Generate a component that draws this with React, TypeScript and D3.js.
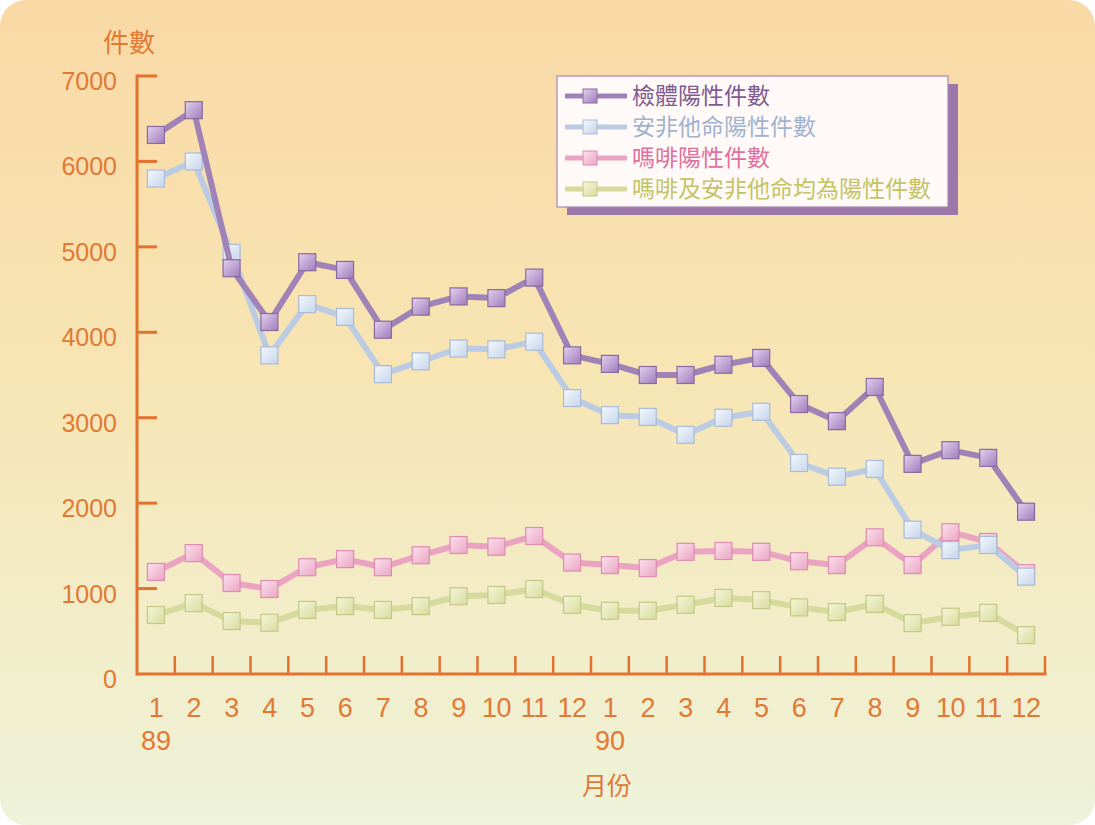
import React, { useEffect, useRef } from "react";
import * as d3 from "d3";

const width = 1095;
const height = 825;

const months = ["1", "2", "3", "4", "5", "6", "7", "8", "9", "10", "11", "12",
    "1", "2", "3", "4", "5", "6", "7", "8", "9", "10", "11", "12"];
const years = [{ idx: 0, label: "89" }, { idx: 12, label: "90" }];
const yTicks = [0, 1000, 2000, 3000, 4000, 5000, 6000, 7000];

const specimen = [6310, 6600, 4750, 4120, 4820, 4730, 4030, 4300, 4420, 4400, 4640, 3730,
    3630, 3500, 3500, 3620, 3700, 3160, 2960, 3360, 2460, 2620, 2530, 1900];
const amphetamine = [5800, 6000, 4930, 3730, 4330, 4180, 3510, 3660, 3810, 3800, 3890, 3230,
    3030, 3010, 2800, 3000, 3070, 2470, 2310, 2400, 1690, 1450, 1510, 1140];
const morphine = [1195, 1415, 1065, 995, 1250, 1345, 1250, 1390, 1510, 1490, 1615, 1305,
    1275, 1240, 1430, 1440, 1430, 1320, 1275, 1600, 1275, 1660, 1545, 1180];
const both = [690, 830, 620, 600, 750, 795, 750, 795, 910, 925, 995, 810,
    740, 740, 810, 890, 865, 780, 725, 820, 595, 670, 715, 455];

type Series = {
    name: string,
    values: number[],
    line: string,
    light: string,
    dark: string,
    stroke: string,
    text: string
}

const series: Series[] = [
    { name: "檢體陽性件數", values: specimen, line: "#9f82b6", light: "#e2d0ee", dark: "#a07cbc", stroke: "#8a6a9e", text: "#7e5a92" },
    { name: "安非他命陽性件數", values: amphetamine, line: "#bccbe4", light: "#f4f8fd", dark: "#c6d5ea", stroke: "#a9bbd6", text: "#9fb3d0" },
    { name: "嗎啡陽性件數", values: morphine, line: "#eba3c2", light: "#fbe0ec", dark: "#eba6c4", stroke: "#dc8cb0", text: "#e0709e" },
    { name: "嗎啡及安非他命均為陽性件數", values: both, line: "#d6da9c", light: "#f4f6d8", dark: "#d8dc9e", stroke: "#c4c886", text: "#c2c466" },
];

const axisColor = "#e2722e";
const textColor = "#e07a34";
const numFont = "'Liberation Sans', Arial, sans-serif";
const cjkFont = "'Noto Sans CJK TC', 'Noto Sans CJK SC', sans-serif";

const App = () => {
    const ref = useRef<SVGSVGElement>(null);

    useEffect(() => {
        const svg = d3.select(ref.current);
        svg.selectAll("*").remove();

        const x = d3.scaleBand<number>()
            .domain(d3.range(months.length))
            .range([137, 1045]);
        const y = d3.scaleLinear().domain([0, 7000]).range([674, 76]);
        const cx = (i: number) => (x(i) as number) + x.bandwidth() / 2;

        const defs = svg.append("defs");
        const bg = defs.append("linearGradient").attr("id", "bg")
            .attr("x1", 0).attr("y1", 0).attr("x2", 0).attr("y2", 1);
        bg.append("stop").attr("offset", "0%").attr("stop-color", "#f9d9a6");
        bg.append("stop").attr("offset", "45%").attr("stop-color", "#f7e5b3");
        bg.append("stop").attr("offset", "100%").attr("stop-color", "#eef3da");

        series.forEach((s, i) => {
            const g = defs.append("linearGradient").attr("id", "mk" + i)
                .attr("x1", 0).attr("y1", 0).attr("x2", 1).attr("y2", 1);
            g.append("stop").attr("offset", "0%").attr("stop-color", s.light);
            g.append("stop").attr("offset", "100%").attr("stop-color", s.dark);
        });

        svg.append("rect")
            .attr("width", width).attr("height", height)
            .attr("fill", "#ffffff");
        svg.append("rect")
            .attr("x", 0).attr("y", 0)
            .attr("width", width).attr("height", height)
            .attr("rx", 26)
            .attr("fill", "url(#bg)");

        // axes
        const x0 = x.range()[0];
        const axis = svg.append("g")
            .attr("stroke", axisColor)
            .attr("stroke-width", 3)
            .attr("fill", "none");
        axis.append("line")
            .attr("x1", x0).attr("x2", x0)
            .attr("y1", y(7000) - 1.5).attr("y2", y(0) + 1.5);
        axis.selectAll("line.ytick")
            .data(yTicks.filter(d => d > 0))
            .join("line")
            .attr("class", "ytick")
            .attr("x1", x0).attr("x2", x0 + 20)
            .attr("y1", d => y(d)).attr("y2", d => y(d));
        axis.append("line")
            .attr("x1", x0).attr("x2", x.range()[1] + 1.5)
            .attr("y1", y(0)).attr("y2", y(0));
        axis.selectAll("line.xtick")
            .data(d3.range(1, months.length + 1))
            .join("line")
            .attr("class", "xtick")
            .attr("stroke-width", 2.5)
            .attr("x1", d => x0 + d * x.bandwidth())
            .attr("x2", d => x0 + d * x.bandwidth())
            .attr("y1", y(0)).attr("y2", y(0) - 18);

        svg.append("g")
            .attr("font-family", numFont)
            .attr("font-size", 25)
            .attr("fill", textColor)
            .attr("text-anchor", "end")
            .selectAll("text")
            .data(yTicks)
            .join("text")
            .attr("x", 117)
            .attr("y", d => y(d) + 14)
            .text(d => d);

        svg.append("g")
            .attr("font-family", numFont)
            .attr("font-size", 27)
            .attr("fill", textColor)
            .attr("text-anchor", "middle")
            .attr("letter-spacing", -0.5)
            .selectAll("text")
            .data(months)
            .join("text")
            .attr("x", (_d, i) => cx(i))
            .attr("y", 717)
            .text(d => d);

        svg.append("g")
            .attr("font-family", numFont)
            .attr("font-size", 27)
            .attr("fill", textColor)
            .attr("text-anchor", "middle")
            .selectAll("text")
            .data(years)
            .join("text")
            .attr("x", d => cx(d.idx))
            .attr("y", 750)
            .text(d => d.label);

        svg.append("text")
            .attr("x", 607).attr("y", 795)
            .attr("font-family", cjkFont)
            .attr("font-size", 25)
            .attr("fill", textColor)
            .attr("text-anchor", "middle")
            .text("月份");

        svg.append("text")
            .attr("x", 129).attr("y", 52)
            .attr("font-family", cjkFont)
            .attr("font-size", 26)
            .attr("fill", textColor)
            .attr("text-anchor", "middle")
            .text("件數");

        // lines + markers (bottom series first so purple stays on top)
        const line = d3.line<number>()
            .x((_d, i) => cx(i))
            .y(d => y(d));

        const ms = 17;
        [...series].map((s, i) => ({ s, i })).reverse().forEach(({ s, i }) => {
            const g = svg.append("g");
            g.append("path")
                .datum(s.values)
                .attr("fill", "none")
                .attr("stroke", s.line)
                .attr("stroke-width", 6)
                .attr("stroke-linejoin", "round")
                .attr("d", line);
            g.selectAll("rect")
                .data(s.values)
                .join("rect")
                .attr("x", (_d, j) => cx(j) - ms / 2)
                .attr("y", d => y(d) - ms / 2)
                .attr("width", ms)
                .attr("height", ms)
                .attr("fill", `url(#mk${i})`)
                .attr("stroke", s.stroke)
                .attr("stroke-width", 1.2);
        });

        // legend
        const lg = svg.append("g");
        lg.append("rect")
            .attr("x", 567).attr("y", 84)
            .attr("width", 391).attr("height", 131)
            .attr("fill", "#9c78aa");
        lg.append("rect")
            .attr("x", 557).attr("y", 76)
            .attr("width", 391).attr("height", 131)
            .attr("fill", "#fffaf7")
            .attr("stroke", "#a888b4")
            .attr("stroke-width", 1.2);

        const row = lg.selectAll("g")
            .data(series)
            .join("g")
            .attr("transform", (_d, i) => `translate(0,${96 + i * 31})`);
        row.append("line")
            .attr("x1", 565).attr("x2", 627)
            .attr("y1", 0).attr("y2", 0)
            .attr("stroke", d => d.line)
            .attr("stroke-width", 5);
        row.append("rect")
            .attr("x", 583).attr("y", -7)
            .attr("width", 14).attr("height", 14)
            .attr("fill", (_d, i) => `url(#mk${i})`)
            .attr("stroke", d => d.stroke)
            .attr("stroke-width", 1);
        row.append("text")
            .attr("x", 632).attr("y", 8)
            .attr("font-family", cjkFont)
            .attr("font-size", 23)
            .attr("fill", d => d.text)
            .text(d => d.name);
    }, []);

    return (
        <svg ref={ref} width={width} height={height}
            style={{ position: "absolute", left: 0, top: 0, display: "block" }} />
    );
};

export default App;
